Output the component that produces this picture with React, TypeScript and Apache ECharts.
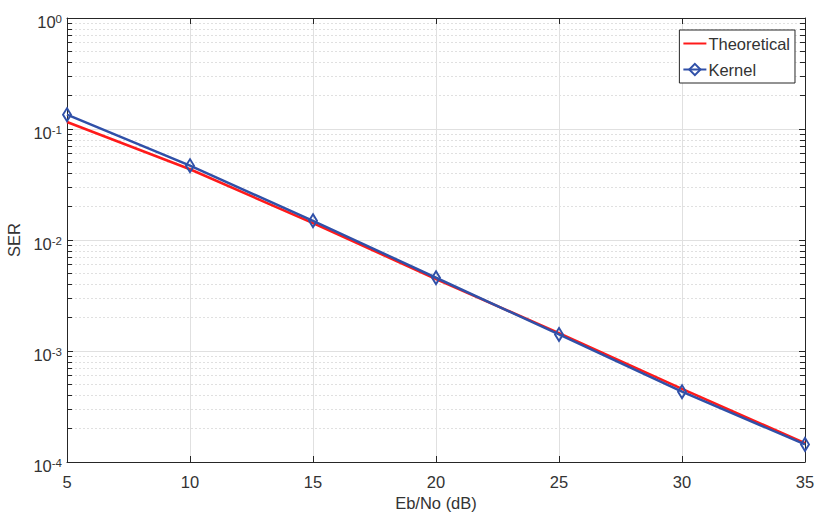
import React, { useEffect, useRef } from "react";
import * as echarts from "echarts";

const ebNo = [5, 10, 15, 20, 25, 30, 35];
const theoretical = [0.1156, 0.0434, 0.0142, 0.00445, 0.00145, 0.000455, 0.000148];
const kernel = [0.1345, 0.0467, 0.0149, 0.00457, 0.00141, 0.00043, 0.000144];
const xTicks = [5, 10, 15, 20, 25, 30, 35];
const yExponents = [-4, -3, -2, -1, 0];

const FONT = "'Liberation Sans', Arial, Helvetica, sans-serif";
const TXT = "#333333";
const AXIS = "#262626";
const GRID = "#e0e0e0";
const RED = "#ff1a1a";
const BLUE = "#3050a8";

export default function App() {
  const ref = useRef<HTMLDivElement>(null);
  useEffect(() => {
    if (!ref.current) return;
    const chart = echarts.init(ref.current, undefined, { renderer: "svg" });
    const yLabel = (v: number) => {
      const e = Math.round(Math.log10(v));
      if (!yExponents.includes(e)) return "";
      return `{b|10}{s|${e}}`;
    };
    const commonX = {
      type: "value",
      min: xTicks[0],
      max: xTicks[xTicks.length - 1],
      interval: 5,
    };
    const commonY = {
      type: "log",
      logBase: 10,
      min: Math.pow(10, yExponents[0]),
      max: Math.pow(10, yExponents[yExponents.length - 1]),
    };
    chart.setOption({
      animation: false,
      backgroundColor: "#fff",
      grid: { left: 67, right: 10, top: 18, bottom: 60, containLabel: false, outerBoundsMode: "none" },
      legend: {
        orient: "vertical",
        right: 20,
        top: 30,
        padding: [5, 5, 5, 3],
        itemGap: 9,
        itemWidth: 23,
        itemHeight: 14,
        icon: "inherit",
        borderColor: AXIS,
        borderWidth: 1,
        borderRadius: 0,
        backgroundColor: "#fff",
        textStyle: { fontFamily: FONT, fontSize: 16.5, color: TXT, padding: [0, 0, 0, -3] },
        data: ["Theoretical", "Kernel"],
      },
      xAxis: [
        {
          ...commonX,
          position: "bottom",
          name: "Eb/No (dB)",
          nameLocation: "middle",
          nameGap: 31,
          nameTextStyle: { fontFamily: FONT, fontSize: 16.5, color: TXT },
          axisLine: { show: true, onZero: false, lineStyle: { color: AXIS, width: 1 } },
          axisTick: { show: true, inside: true, length: 6, lineStyle: { color: AXIS } },
          axisLabel: { fontFamily: FONT, fontSize: 16.5, color: TXT, margin: 11 },
          splitLine: { show: true, lineStyle: { color: GRID, width: 1 } },
        },
        {
          ...commonX,
          position: "top",
          axisLine: { show: true, onZero: false, lineStyle: { color: AXIS, width: 1 } },
          axisTick: { show: true, inside: true, length: 6, lineStyle: { color: AXIS } },
          axisLabel: { show: false },
          splitLine: { show: false },
        },
      ],
      yAxis: [
        {
          ...commonY,
          position: "left",
          name: "SER",
          nameLocation: "middle",
          nameGap: 38,
          nameTextStyle: { fontFamily: FONT, fontSize: 16.5, color: TXT },
          axisLine: { show: true, onZero: false, lineStyle: { color: AXIS, width: 1 } },
          axisTick: { show: true, inside: true, length: 6, lineStyle: { color: AXIS } },
          minorTick: { show: true, splitNumber: 9, length: 5, lineStyle: { color: AXIS } },
          minorSplitLine: { show: true, lineStyle: { color: GRID, type: [2, 2], width: 1 } },
          splitLine: { show: true, lineStyle: { color: GRID, width: 1 } },
          axisLabel: {
            margin: 5,
            formatter: yLabel,
            rich: {
              b: { fontFamily: FONT, fontSize: 16.5, color: TXT, lineHeight: 17, padding: [8, 0, 0, 0] },
              s: { fontFamily: FONT, fontSize: 11.5, color: TXT, lineHeight: 12, verticalAlign: "top", padding: [3.5, 0, 0, 0] },
            },
          },
        },
        {
          ...commonY,
          position: "right",
          axisLine: { show: true, onZero: false, lineStyle: { color: AXIS, width: 1 } },
          axisTick: { show: true, inside: true, length: 6, lineStyle: { color: AXIS } },
          minorTick: { show: true, splitNumber: 9, length: 5, lineStyle: { color: AXIS } },
          axisLabel: { show: false },
          splitLine: { show: false },
        },
      ],
      series: [
        {
          name: "Theoretical",
          type: "line",
          xAxisIndex: 0,
          yAxisIndex: 0,
          data: ebNo.map((x, i) => [x, theoretical[i]]),
          symbol: "circle",
          showSymbol: false,
          lineStyle: { color: RED, width: 2.5 },
          itemStyle: { color: "rgba(0,0,0,0)", borderWidth: 0 },
          z: 3,
        },
        {
          name: "Kernel",
          type: "line",
          xAxisIndex: 0,
          yAxisIndex: 0,
          data: ebNo.map((x, i) => [x, kernel[i]]),
          symbol: "diamond",
          symbolSize: [8, 13],
          showSymbol: true,
          lineStyle: { color: BLUE, width: 2.5 },
          itemStyle: { color: "rgba(255,255,255,0.01)", borderColor: BLUE, borderWidth: 2 },
          z: 4,
        },
      ],
    });
    return () => chart.dispose();
  }, []);
  return <div ref={ref} style={{ width: 815, height: 522, position: "absolute", left: 0, top: 0 }} />;
}
